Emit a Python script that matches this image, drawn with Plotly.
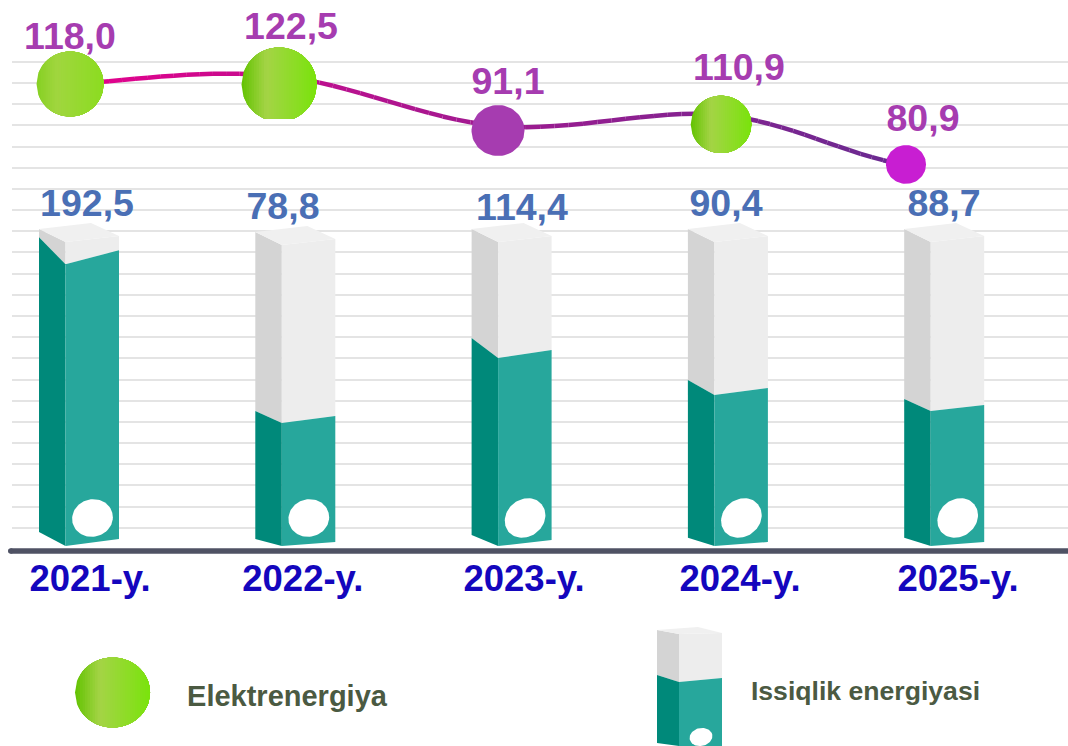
import numpy as np
import plotly.graph_objects as go

# ---------- data ----------
years = ["2021-y.", "2022-y.", "2023-y.", "2024-y.", "2025-y."]
electric_values = [118.0, 122.5, 91.1, 110.9, 80.9]
electric_levels = [118.5, 122.5, 99.1, 104.3, 80.9]   # drawn height
heat_values = [192.5, 78.8, 114.4, 90.4, 88.7]
heat_levels = [192.5, 82.0, 126.0, 100.7, 89.3]       # drawn fill height
legend_names = ["Elektrenergiya", "Issiqlik energiyasi"]

# ---------- layout constants ----------
W, H = 1068, 746
LEFT = 12
X0, DX = 79.0, 216.3       # pixel of first category, pixels per category
HEAT_PX, HEAT_ZERO = 1.5, 539.0
EL_PX, EL_ZERO = 2.139, 338.0
BASE_Y = 551

def xu(px):  return (px - X0) / DX
def yu(py):  return (HEAT_ZERO - py) / HEAT_PX
def y2u(py): return (EL_ZERO - py) / EL_PX
def cat_px(i): return X0 + DX * i
def heat_py(v): return HEAT_ZERO - v * HEAT_PX
def el_py(v):   return EL_ZERO - v * EL_PX

TEAL_L, TEAL_R = "#00897a", "#27a79c"
GREY_L, GREY_R, CAP = "#d4d4d4", "#ededed", "#f0f0f0"
PURPLE, BLUE = "#a63cb0", "#4a6fb5"
LEG_TXT = "#4b5a42"
BASE_COL = "#4f5264"
FONT = "Liberation Sans"

fig = go.Figure()

def poly(xs, ys, color, axis="y", seam=0):
    fig.add_trace(go.Scatter(
        x=[xu(p) for p in xs],
        y=[(yu(p) if axis == "y" else y2u(p)) for p in ys],
        yaxis=axis, mode="lines", fill="toself", fillcolor=color,
        line=dict(width=seam, color=color), hoverinfo="skip", showlegend=False))

def ellipse_pts(cx, cy, rx, ry, rot=0.0, n=72):
    t = np.linspace(0, 2 * np.pi, n)
    a = np.radians(rot)
    ex, ey = rx * np.cos(t), ry * np.sin(t)
    return cx + ex * np.cos(a) - ey * np.sin(a), cy + ex * np.sin(a) + ey * np.cos(a)

def lerp_color(stops, f):
    for (a, ca), (b, cb) in zip(stops, stops[1:]):
        if f <= b:
            k = (f - a) / (b - a)
            c = [int(round(ca[i] + (cb[i] - ca[i]) * k)) for i in range(3)]
            return f"rgb({c[0]},{c[1]},{c[2]})"
    return f"rgb({stops[-1][1][0]},{stops[-1][1][1]},{stops[-1][1][2]})"

GREEN = [(0, (0x62, 0xc2, 0x00)), (0.33, (0xa4, 0xd4, 0x46)), (1, (0x7a, 0xe3, 0x0c))]
GREEN_SOFT = [(0, (0x86, 0xd0, 0x22)), (0.3, (0xa0, 0xd6, 0x3f)), (1, (0x8c, 0xdc, 0x20))]

def green_ellipse(cx, cy, rx, ry, axis, stops=GREEN, clip=None, n=30):
    """Painted left to right, each layer reaching the right edge, so no seams appear."""
    edges = np.linspace(cx - rx, cx + rx, n + 1)
    for a, b in zip(edges, edges[1:]):
        xs = np.linspace(a, cx + rx, 40)
        half = ry * np.sqrt(np.clip(1 - ((xs - cx) / rx) ** 2, 0, 1))
        top = cy - half
        bot = cy + half
        if clip is not None:
            bot = np.minimum(bot, clip)
        col = lerp_color(stops, ((a + b) / 2 - (cx - rx)) / (2 * rx))
        poly(list(xs) + list(xs[::-1]), list(top) + list(bot[::-1]), col, axis)

def heat_bar(xl, xm, xr, top, fill_r, rise, drop, bot_l, bot_m, bot_r,
             back=(52, -6), right_dy=7, mid_dy=13, ell=None):
    """3D column: top = y of left cap corner"""
    cap_back, cap_right, cap_mid = top + back[1], top + right_dy, top + mid_dy
    fl, fm = fill_r - rise, fill_r + drop
    poly([xl, xm, xm, xl], [top, cap_mid, fm, fl], GREY_L)
    poly([xm, xr, xr, xm], [cap_mid, cap_right, fill_r, fm], GREY_R)
    poly([xl, xl + back[0], xr, xm], [top, cap_back, cap_right, cap_mid], CAP)
    poly([xl, xm, xm, xl], [fl, fm, bot_m, bot_l], TEAL_L)
    poly([xm, xr, xr, xm], [fm, fill_r, bot_r, bot_m], TEAL_R)
    if ell:
        ex, ey = ellipse_pts(*ell[:4], rot=ell[4])
        poly(list(ex), list(np.minimum(ey, H)), "#ffffff")

# ---------- bars ----------
HALF_L, MID_OFF, HALF_R = 40.0, 13.5, 40.0
RISE = [13, 5, 12, 8, 6]
DROP = [14, 7, 8, 7, 6]
CAP_SHIFT = [0, 3, 0, 0, 0]
BOT_L = [532, 539, 535, 537.7, 537.7]
BOT_R = [539, 542, 540, 542, 542]
HOLE_RX = [20.5, 20.5, 21.5, 21.5, 21.5]
HOLE_RY = [18.7, 18.7, 18.5, 18.5, 18.5]
HOLE_ROT = [-15, -15, -40, -40, -40]
HEAT_LABEL_DX = [8, -12.3, 10.4, -1.9, -0.2]
HEAT_LABEL_DY = [16, 16, 12, 16, 16]
CAP_TOP = 229

for i, lv in enumerate(heat_levels):
    c = cat_px(i)
    heat_bar(c - HALF_L, c - MID_OFF, c + HALF_R, CAP_TOP + CAP_SHIFT[i], heat_py(lv),
             RISE[i], DROP[i], BOT_L[i], 546, BOT_R[i],
             ell=(c + 13.5, 518, HOLE_RX[i], HOLE_RY[i], HOLE_ROT[i]))

# ---------- electricity line ----------
MARK_DX = [-9, -16.3, -13.6, -6.9, -38.2]          # marker x relative to its category
MARK_DY = [-0.5, 8.5, 4.5, 9.5, -0.5]              # marker centre relative to the line
MARK_RX = [33.5, 37.5, 26.5, 30.3, 20.0]
MARK_RY = [32.5, 37.0, 25.5, 28.7, 19.4]
MARK_FILL = ["soft", "green", PURPLE, "green", "#c81ed2"]
EL_LABEL_DX = [0, 12, 10, 18, 17]
EL_LABEL_UP = [44.5, 46, 41.5, 44, 43.5]
MARK_CLIP = [None, 119, None, None, None]

lx = np.array([cat_px(i) + MARK_DX[i] for i in range(5)])
ly = np.array([el_py(v) for v in electric_levels])
tx = np.gradient(lx) * 1.0
ty = np.zeros(5)
ty[1:-1] = (ly[2:] - ly[:-2]) / 2
ty[0], ty[-1] = -16, 30
tx[1:-1] = (lx[2:] - lx[:-2]) / 2
tx[0], tx[-1] = lx[1] - lx[0], lx[-1] - lx[-2]

LINE_STOPS = [(0, (0xe6, 0x00, 0x8c)), (0.5, (0xa0, 0x1a, 0x90)), (1, (0x68, 0x2a, 0x90))]
SEG = 16
for k in range(4):
    s = np.linspace(0, 1, SEG + 1)
    h00, h10, h01, h11 = 2*s**3-3*s**2+1, s**3-2*s**2+s, -2*s**3+3*s**2, s**3-s**2
    px_ = h00*lx[k] + h10*tx[k] + h01*lx[k+1] + h11*tx[k+1]
    py_ = h00*ly[k] + h10*ty[k] + h01*ly[k+1] + h11*ty[k+1]
    for j in range(SEG):
        f = ((px_[j] + px_[j+1]) / 2 - lx[0]) / (lx[-1] - lx[0])
        fig.add_trace(go.Scatter(x=[xu(px_[j]), xu(px_[j+1])], y=[y2u(py_[j]), y2u(py_[j+1])],
                                 yaxis="y2", mode="lines",
                                 line=dict(width=4.5, color=lerp_color(LINE_STOPS, f)),
                                 hoverinfo="skip", showlegend=False))

for i in range(5):
    cx, cy = lx[i], ly[i] + MARK_DY[i]
    rx, ry = MARK_RX[i], MARK_RY[i]
    if MARK_FILL[i] == "soft":
        green_ellipse(cx, cy, rx, ry, "y2", GREEN_SOFT)
    elif MARK_FILL[i] == "green":
        green_ellipse(cx, cy, rx, ry, "y2", GREEN, clip=MARK_CLIP[i])
    else:
        ex, ey = ellipse_pts(cx, cy, rx, ry)
        poly(list(ex), list(ey), MARK_FILL[i], "y2")

# ---------- value labels ----------
fmt = lambda v: f"{v:.1f}".replace(".", ",")
fig.add_trace(go.Scatter(
    x=[xu(lx[i] + EL_LABEL_DX[i]) for i in range(5)],
    y=[y2u(ly[i] - EL_LABEL_UP[i]) for i in range(5)],
    yaxis="y2", mode="text", text=[fmt(v) for v in electric_values],
    textposition="middle center",
    textfont=dict(family=FONT, size=37.5, color=PURPLE, weight=700),
    hoverinfo="skip", showlegend=False))
fig.add_trace(go.Scatter(
    x=[xu(cat_px(i) + HEAT_LABEL_DX[i]) for i in range(5)],
    y=[yu(CAP_TOP - 6 + CAP_SHIFT[i] - HEAT_LABEL_DY[i]) for i in range(5)],
    mode="text", text=[fmt(v) for v in heat_values],
    textposition="middle center",
    textfont=dict(family=FONT, size=37.5, color=BLUE, weight=700),
    hoverinfo="skip", showlegend=False))

# ---------- legend ----------
green_ellipse(112.5, 692.5, 37.5, 35, "y", GREEN)
heat_bar(657, 679, 722, 630, 678, 3, 4, 743, 746, 746, back=(41, -3), right_dy=3, mid_dy=4,
         ell=(701, 737, 11.5, 9, -12))
fig.add_trace(go.Scatter(
    x=[xu(287), xu(865.5)], y=[yu(699), yu(693)], mode="text", text=legend_names,
    textposition="middle center",
    textfont=dict(family=FONT, size=[29, 26.6], color=LEG_TXT, weight=700),
    hoverinfo="skip", showlegend=False))

# ---------- axes ----------
LABEL_DX = [11, 7.5, 12.4, 12.1, 13.8]
grid_vals = [yu(527.7 - 21.17 * k) for k in range(23)]
TICK_AXIS_Y = 553

fig.update_layout(
    width=W, height=H, margin=dict(l=LEFT, r=0, t=0, b=0),
    paper_bgcolor="#ffffff", plot_bgcolor="#ffffff", showlegend=False,
    xaxis=dict(range=[xu(LEFT), xu(W)], anchor="free", position=(H - TICK_AXIS_Y) / H,
               tickmode="array", tickvals=[xu(cat_px(i) + LABEL_DX[i]) for i in range(5)],
               ticktext=years, showgrid=False, zeroline=False, showline=False,
               ticks="", ticklen=0,
               tickfont=dict(family=FONT, size=36.5, color="#1406bd", weight=700)),
    yaxis=dict(range=[yu(H), yu(0)], tickmode="array", tickvals=grid_vals,
               showticklabels=False, ticks="", showgrid=True, gridcolor="#e4e4e4",
               gridwidth=2, zeroline=False, showline=False),
    yaxis2=dict(range=[y2u(H), y2u(0)], overlaying="y", visible=False, showgrid=False),
    shapes=[
        dict(type="rect", xref="paper", yref="paper", layer="above",
             x0=(10.5 - LEFT) / (W - LEFT), x1=1,
             y0=(H - BASE_Y - 2.8) / H, y1=(H - BASE_Y + 2.8) / H,
             fillcolor=BASE_COL, line=dict(width=0)),
        dict(type="circle", xref="paper", yref="paper", layer="above",
             x0=(8 - LEFT) / (W - LEFT), x1=(13.6 - LEFT) / (W - LEFT),
             y0=(H - BASE_Y - 2.8) / H, y1=(H - BASE_Y + 2.8) / H,
             fillcolor=BASE_COL, line=dict(width=0)),
    ],
)

fig.write_html("out.html", config=dict(displayModeBar=False),
               post_script="document.body.style.margin='0';document.documentElement.style.overflow='hidden';")
